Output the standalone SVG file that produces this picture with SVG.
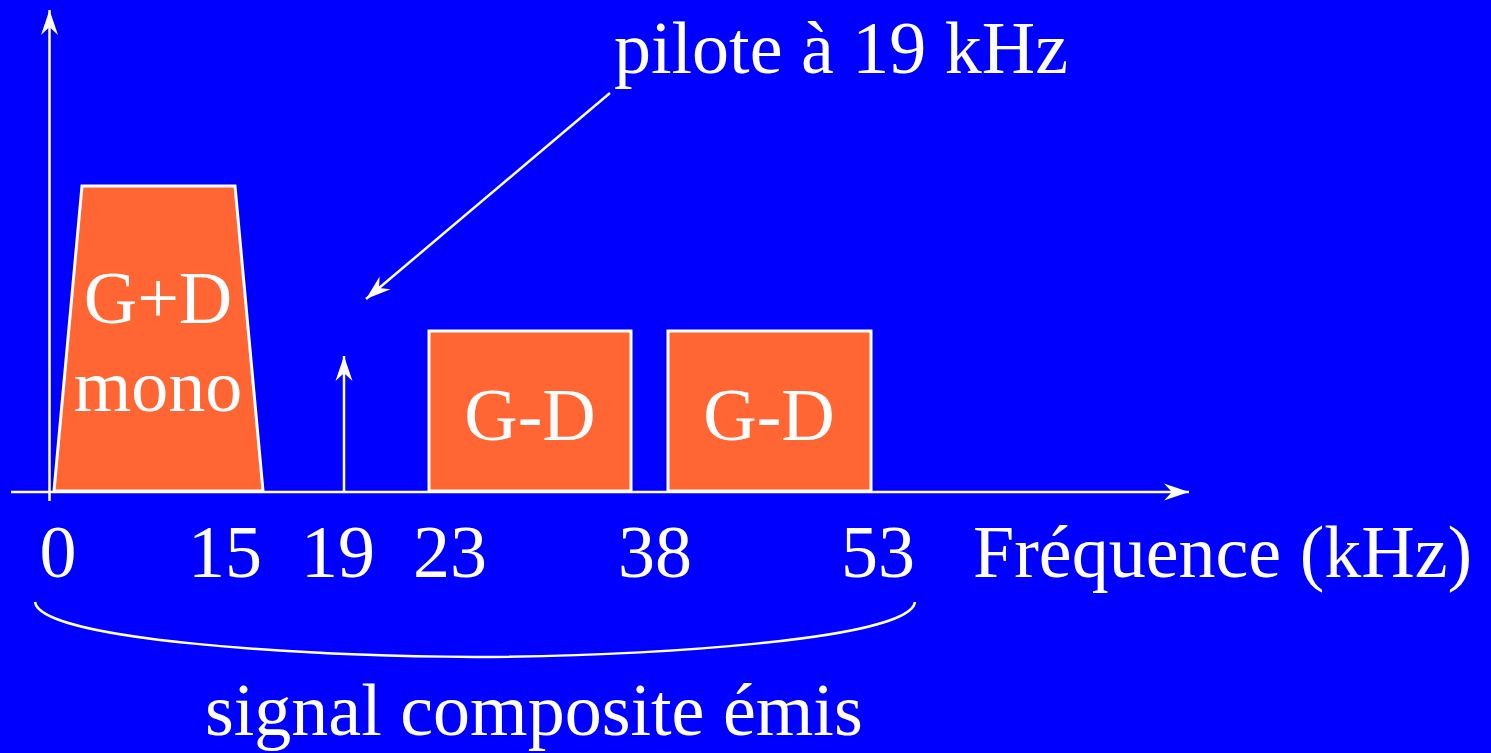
<svg xmlns="http://www.w3.org/2000/svg" width="1491" height="753" viewBox="0 0 1491 753">
<defs>
<marker id="ah" markerUnits="userSpaceOnUse" markerWidth="30" markerHeight="20" viewBox="-26 -10 30 20" refX="0" refY="0" orient="auto">
<path d="M0,0 L-25,-8.5 L-17,0 L-25,8.5 Z" fill="#fff"/>
</marker>
<style>
.ln{stroke:#fff;stroke-width:2.5;fill:none}
.bx{fill:#FF6633;stroke:#fff;stroke-width:3}
.t{font-family:"Liberation Serif","Times New Roman",serif;font-size:74px;fill:#fff}
.m{text-anchor:middle}
</style>
</defs>
<rect x="0" y="0" width="1491" height="753" fill="#0000FF"/>
<g id="mono">
<polygon class="bx" points="82,186 235,186 263,491 54,491"/>
<text class="t m" x="158" y="323">G+D</text>
<text class="t m" x="158" y="411">mono</text>
</g>
<g id="gd1">
<rect class="bx" x="429" y="331" width="202" height="160"/>
<text class="t m" x="530" y="440">G-D</text>
</g>
<g id="gd2">
<rect class="bx" x="668" y="331" width="203" height="160"/>
<text class="t m" x="769" y="440">G-D</text>
</g>
<g id="connectors">
<line class="ln" x1="49.5" y1="501" x2="49.5" y2="10" marker-end="url(#ah)"/>
<line class="ln" x1="11" y1="492" x2="1189" y2="492" marker-end="url(#ah)"/>
<line class="ln" x1="344" y1="492" x2="344" y2="356" marker-end="url(#ah)"/>
<line class="ln" x1="610" y1="93" x2="366" y2="299" marker-end="url(#ah)"/>
<path class="ln" d="M35,602 C40,640 300,656 475,657 C650,656 910,640 915,602"/>
</g>
<g id="labels">
<text class="t" x="614" y="73">pilote à 19 kHz</text>
<text class="t m" x="58" y="577">0</text>
<text class="t m" x="225" y="577">15</text>
<text class="t m" x="338" y="577">19</text>
<text class="t m" x="450" y="577">23</text>
<text class="t m" x="655" y="577">38</text>
<text class="t m" x="878" y="577">53</text>
<text class="t" x="973" y="577">Fréquence (kHz)</text>
<text class="t" x="205" y="735">signal composite émis</text>
</g>
</svg>
